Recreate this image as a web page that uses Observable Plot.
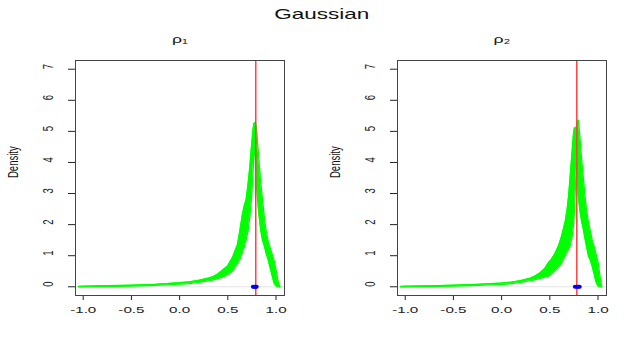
<!DOCTYPE html>
<html><head><meta charset="utf-8">
<script src="https://cdn.jsdelivr.net/npm/d3@7"></script>
<script src="https://cdn.jsdelivr.net/npm/@observablehq/plot@0.6"></script>
<style>
body{margin:0;background:#fff;}
#wrap{width:644px;height:345px;overflow:hidden;font-family:"Liberation Sans",Arial,sans-serif;background:#fff;}
#title{height:27px;line-height:27px;text-align:center;font-size:15px;color:#111;}
#title span{display:inline-block;transform:scaleX(1.5);}
#panels{display:flex;}
</style></head><body>
<div id="wrap"><div id="title"><span>Gaussian</span></div><div id="panels"></div></div>
<script>
const mainTitle = "Gaussian";
const panelTitles = ["ρ₁", "ρ₂"];
const xTicks = [-1, -0.5, 0, 0.5, 1];
const yTicks = [0, 1, 2, 3, 4, 5, 6, 7];
const yLabel = "Density";

// Panel 1: envelope (min / max) of the green density curves
const p1X  = [-1.05,-1.00,-0.75,-0.50,-0.25,0.00,0.10,0.20,0.30,0.35,0.40,0.45,0.50,0.55,0.60,0.625,0.65,0.67,0.69,0.71,0.73,0.745,0.76,0.77,0.78,0.79,0.80,0.82,0.84,0.86,0.88,0.90,0.92,0.94,0.96,0.98,1.00,1.02,1.04];
const p1Lo = [0.00,0.00,0.01,0.02,0.045,0.085,0.10,0.14,0.19,0.22,0.27,0.31,0.40,0.52,0.74,0.88,1.10,1.28,1.50,1.80,2.30,2.80,3.60,4.20,4.50,4.00,3.20,2.40,1.85,1.50,1.30,1.05,0.85,0.60,0.35,0.12,0.03,0.00,0.00];
const p1Hi = [0.01,0.02,0.035,0.05,0.08,0.13,0.16,0.21,0.28,0.33,0.42,0.55,0.68,0.95,1.35,1.80,2.30,2.60,2.80,3.30,3.90,4.50,5.00,5.25,5.28,5.25,5.00,4.20,3.40,2.80,2.20,1.75,1.45,1.25,1.05,0.85,0.55,0.20,0.00];

// Panel 2
const p2X  = [-1.05,-1.00,-0.75,-0.50,-0.25,0.00,0.10,0.20,0.30,0.35,0.40,0.45,0.485,0.52,0.55,0.59,0.62,0.64,0.66,0.68,0.695,0.71,0.73,0.745,0.755,0.762,0.77,0.78,0.785,0.796,0.81,0.83,0.848,0.865,0.88,0.90,0.92,0.94,0.96,0.98,1.00,1.02,1.038];
const p2Lo = [0.00,0.00,0.01,0.02,0.045,0.08,0.10,0.14,0.20,0.23,0.27,0.31,0.34,0.42,0.50,0.62,0.75,0.88,1.00,1.12,1.22,1.31,1.60,1.95,2.40,2.92,3.50,4.00,3.80,2.92,2.50,2.10,1.85,1.55,1.31,1.00,0.85,0.65,0.40,0.15,0.03,0.00,0.00];
const p2Hi = [0.01,0.02,0.03,0.05,0.08,0.12,0.15,0.20,0.28,0.35,0.45,0.60,0.77,0.90,1.05,1.31,1.60,1.85,2.10,2.50,2.92,3.50,4.30,4.90,5.12,5.10,5.10,5.20,5.30,5.36,4.90,4.10,3.50,2.92,2.50,2.10,1.80,1.50,1.30,1.05,0.80,0.35,0.00];

const trueValues = [0.79, 0.78];
const p1Means = [0.76, 0.77, 0.78, 0.79, 0.80];
const p2Means = [0.76, 0.775, 0.79, 0.80, 0.81];

function stretch(svg, s) {
  svg.querySelectorAll("text").forEach(t => {
    const T = t.getAttribute("transform") || "";
    if (T.includes("rotate")) {
      t.setAttribute("transform", T + ` scale(1,${s})`);
    } else {
      const x = +(t.getAttribute("x") || 0);
      t.setAttribute("transform", T + ` translate(${x},0) scale(${s},1) translate(${-x},0)`);
    }
  });
}

function makePanel(title, xs, lo, hi, truth, means) {
  const rows = xs.map((x, i) => ({x, lo: lo[i], hi: hi[i]}));
  const svg = Plot.plot({
    width: 322, height: 318,
    marginTop: 33, marginBottom: 50, marginLeft: 75, marginRight: 38,
    style: {fontFamily: "Liberation Sans, Arial, sans-serif", fontSize: "9.5px", color: "#222", background: "#fff"},
    x: {domain: [-1.08, 1.088], ticks: xTicks, tickSize: 5, tickPadding: 6, tickFormat: d => d.toFixed(1), label: null},
    y: {domain: [-0.28, 7.28], ticks: yTicks, tickSize: 7, tickFormat: () => "", label: null},
    marks: [
      Plot.ruleY([0], {stroke: "#e4e4e4"}),
      Plot.areaY(rows, {x: "x", y1: "lo", y2: "hi", fill: "#00ff00"}),
      Plot.line(rows, {x: "x", y: "hi", stroke: "#00ff00", strokeWidth: 1.3}),
      Plot.line(rows, {x: "x", y: "lo", stroke: "#00ff00", strokeWidth: 1.3}),
      Plot.ruleX([truth], {stroke: "#ff4040", strokeWidth: 1.5}),
      Plot.dot(means, {x: d => d, y: d => 0, r: 2, fill: "#0000ff", stroke: null}),
      Plot.frame({stroke: "#444"}),
      Plot.text(yTicks, {y: d => d, text: d => String(d), frameAnchor: "left", dx: -27, rotate: -90, fontSize: 9.5, fill: "#222"}),
      Plot.text([yLabel], {text: d => d, frameAnchor: "left", dx: -62, rotate: -90, fontSize: 9.5, fill: "#111"}),
      Plot.text([title], {text: d => d, frameAnchor: "top", dy: -25, fontSize: 11, fill: "#111"})
    ]
  });
  stretch(svg, 1.6);
  return svg;
}

const host = document.getElementById("panels");
host.appendChild(makePanel(panelTitles[0], p1X, p1Lo, p1Hi, trueValues[0], p1Means));
host.appendChild(makePanel(panelTitles[1], p2X, p2Lo, p2Hi, trueValues[1], p2Means));
</script>
</body></html>
